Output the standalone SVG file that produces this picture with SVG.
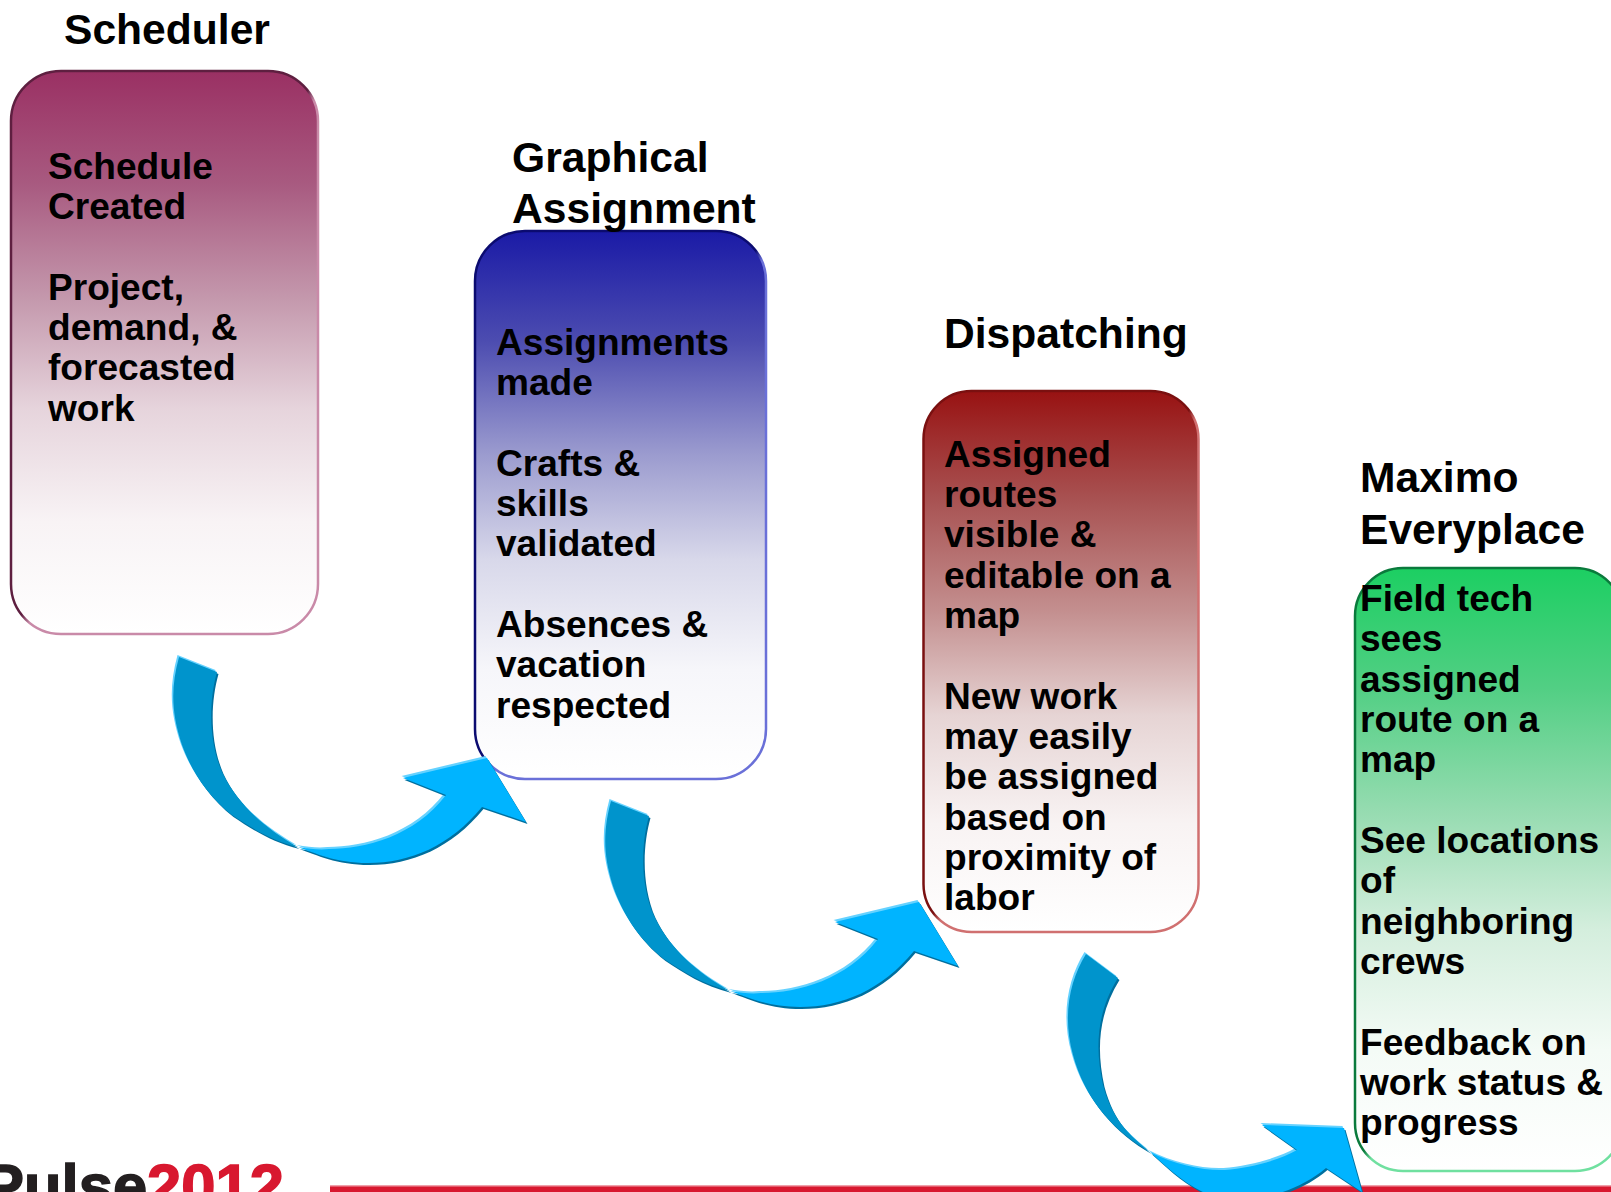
<svg xmlns="http://www.w3.org/2000/svg" xmlns:xlink="http://www.w3.org/1999/xlink" width="1611" height="1192" viewBox="0 0 1611 1192">
<style>
text{font-family:"Liberation Sans",Arial,sans-serif;font-weight:700;fill:#000}
.t{font-size:42.6px}
.b{font-size:37.1px}
.box{stroke-width:2.5}
.tail{fill:#0094cc}
.head{fill:#00b4ff}
.hi{fill:#66d2ff}
.lo{fill:#006f9e}
</style>
<defs>
<linearGradient id="g1" x1="0" y1="0" x2="0" y2="1"><stop offset="0" stop-color="#9a3063"/><stop offset=".2" stop-color="#a85a80"/><stop offset=".41" stop-color="#c59aae"/><stop offset=".6" stop-color="#e6d4dc"/><stop offset=".8" stop-color="#f8f3f5"/><stop offset="1" stop-color="#fff"/></linearGradient>
<linearGradient id="g2" x1="0" y1="0" x2="0" y2="1"><stop offset="0" stop-color="#1a1aa6"/><stop offset=".2" stop-color="#4c4cb0"/><stop offset=".41" stop-color="#9c9ccf"/><stop offset=".6" stop-color="#d8d8ea"/><stop offset=".8" stop-color="#f6f6fa"/><stop offset="1" stop-color="#fff"/></linearGradient>
<linearGradient id="g3" x1="0" y1="0" x2="0" y2="1"><stop offset="0" stop-color="#981212"/><stop offset=".2" stop-color="#a85252"/><stop offset=".41" stop-color="#c49090"/><stop offset=".6" stop-color="#e6d4d4"/><stop offset=".8" stop-color="#f8f3f3"/><stop offset="1" stop-color="#fff"/></linearGradient>
<linearGradient id="g4" x1="0" y1="0" x2="0" y2="1"><stop offset="0" stop-color="#1ccf62"/><stop offset=".2" stop-color="#52cf84"/><stop offset=".41" stop-color="#98dcb2"/><stop offset=".6" stop-color="#d4eedd"/><stop offset=".8" stop-color="#f4fbf6"/><stop offset="1" stop-color="#fff"/></linearGradient>
<linearGradient id="s1" x1="0" y1="0" x2="1" y2="1"><stop offset="0" stop-color="#5e1f40"/><stop offset=".5" stop-color="#5e1f40"/><stop offset=".52" stop-color="#c98aa8"/><stop offset="1" stop-color="#c98aa8"/></linearGradient>
<linearGradient id="s2" x1="0" y1="0" x2="1" y2="1"><stop offset="0" stop-color="#0b0b70"/><stop offset=".5" stop-color="#0b0b70"/><stop offset=".52" stop-color="#6a70d8"/><stop offset="1" stop-color="#6a70d8"/></linearGradient>
<linearGradient id="s3" x1="0" y1="0" x2="1" y2="1"><stop offset="0" stop-color="#7a1010"/><stop offset=".5" stop-color="#7a1010"/><stop offset=".52" stop-color="#d07070"/><stop offset="1" stop-color="#d07070"/></linearGradient>
<linearGradient id="s4" x1="0" y1="0" x2="1" y2="1"><stop offset="0" stop-color="#0a7a3c"/><stop offset=".5" stop-color="#0a7a3c"/><stop offset=".52" stop-color="#70e0a0"/><stop offset="1" stop-color="#70e0a0"/></linearGradient>
<path id="a1" d="M179 657L217 672C209 700 208 740 222 772C238 806 268 830 298 847C310 849 320 850 329 849C365 849 415 836 446 795L403 778L487 758L526 822L482 807C450 846 410 863 368 863C335 863 315 853 298 847C270 840 250 827 232 815C205 794 190 767 182 745C172 715 170 690 179 657Z"/>
<path id="t1" d="M179 657L217 672C209 700 208 740 222 772C238 806 268 830 298 847C270 840 250 827 232 815C205 794 190 767 182 745C172 715 170 690 179 657Z"/>
<path id="h1" d="M298 847C310 849 320 850 329 849C365 849 415 836 446 795L403 778L487 758L526 822L482 807C450 846 410 863 368 863C335 863 315 853 298 847Z"/>
<path id="a3" d="M1086 954L1118 978C1098 1010 1094 1045 1103 1085C1113 1122 1130 1135 1150 1152C1175 1165 1205 1171 1225 1170C1250 1168 1280 1160 1297 1150L1262 1125L1344 1128L1362 1192L1326 1168C1300 1190 1265 1200 1235 1200C1200 1200 1170 1170 1150 1152C1115 1132 1085 1100 1073 1055C1062 1015 1070 980 1086 954Z"/>
<path id="t3" d="M1086 954L1118 978C1098 1010 1094 1045 1103 1085C1113 1122 1130 1135 1150 1152C1115 1132 1085 1100 1073 1055C1062 1015 1070 980 1086 954Z"/>
<path id="h3" d="M1150 1152C1175 1165 1205 1171 1225 1170C1250 1168 1280 1160 1297 1150L1262 1125L1344 1128L1362 1192L1326 1168C1300 1190 1265 1200 1235 1200C1200 1200 1170 1170 1150 1152Z"/>
<g id="arrow1">
<use xlink:href="#a1" href="#a1" class="hi" transform="translate(-1.5,-2)"/>
<use xlink:href="#a1" href="#a1" class="lo" transform="translate(1.5,2)"/>
<use xlink:href="#t1" href="#t1" class="tail"/>
<use xlink:href="#h1" href="#h1" class="head"/>
</g>
</defs>
<g id="footer">
<rect x="330" y="1186" width="1281" height="6" fill="#d8182f"/>
<rect x="330" y="1185" width="1281" height="1.5" fill="#f0a0aa"/>
<text x="-17" y="1207" font-size="61.5" stroke-width="1.5"><tspan fill="#231f20" stroke="#231f20">Pulse</tspan><tspan fill="#d8182f" stroke="#d8182f">2012</tspan></text>
</g>
<g id="scheduler">
<rect class="box" x="11" y="71" width="307" height="563" rx="50" fill="url(#g1)" stroke="url(#s1)"/>
<text class="t" x="64" y="44">Scheduler</text>
<text class="b"><tspan x="48" y="179">Schedule</tspan><tspan x="48" y="219">Created</tspan><tspan x="48" y="299.5">Project,</tspan><tspan x="48" y="340">demand, &amp;</tspan><tspan x="48" y="380">forecasted</tspan><tspan x="48" y="420.5">work</tspan></text>
</g>
<g id="graphical-assignment">
<rect class="box" x="475" y="231" width="291" height="548" rx="50" fill="url(#g2)" stroke="url(#s2)"/>
<text class="t"><tspan x="512" y="172">Graphical</tspan><tspan x="512" y="223">Assignment</tspan></text>
<text class="b"><tspan x="496" y="355">Assignments</tspan><tspan x="496" y="395">made</tspan><tspan x="496" y="475.5">Crafts &amp;</tspan><tspan x="496" y="515.5">skills</tspan><tspan x="496" y="555.5">validated</tspan><tspan x="496" y="636.5">Absences &amp;</tspan><tspan x="496" y="677">vacation</tspan><tspan x="496" y="718">respected</tspan></text>
</g>
<g id="dispatching">
<rect class="box" x="923.5" y="391" width="275" height="541" rx="48" fill="url(#g3)" stroke="url(#s3)"/>
<text class="t" x="944" y="348">Dispatching</text>
<text class="b"><tspan x="944" y="466.5">Assigned</tspan><tspan x="944" y="507">routes</tspan><tspan x="944" y="547">visible &amp;</tspan><tspan x="944" y="588">editable on a</tspan><tspan x="944" y="628">map</tspan><tspan x="944" y="709">New work</tspan><tspan x="944" y="749">may easily</tspan><tspan x="944" y="789">be assigned</tspan><tspan x="944" y="830">based on</tspan><tspan x="944" y="870">proximity of</tspan><tspan x="944" y="910">labor</tspan></text>
</g>
<g id="maximo-everyplace">
<rect class="box" x="1355" y="568" width="268" height="603" rx="48" fill="url(#g4)" stroke="url(#s4)"/>
<text class="t"><tspan x="1360" y="492">Maximo</tspan><tspan x="1360" y="544">Everyplace</tspan></text>
<text class="b"><tspan x="1360" y="611">Field tech</tspan><tspan x="1360" y="651">sees</tspan><tspan x="1360" y="692">assigned</tspan><tspan x="1360" y="732">route on a</tspan><tspan x="1360" y="772">map</tspan><tspan x="1360" y="853">See locations</tspan><tspan x="1360" y="893">of</tspan><tspan x="1360" y="934">neighboring</tspan><tspan x="1360" y="974">crews</tspan><tspan x="1360" y="1055">Feedback on</tspan><tspan x="1360" y="1095">work status &amp;</tspan><tspan x="1360" y="1135">progress</tspan></text>
</g>
<g id="connectors">
<use xlink:href="#arrow1" href="#arrow1"/>
<use xlink:href="#arrow1" href="#arrow1" transform="translate(432,144)"/>
<g id="arrow3">
<use xlink:href="#a3" href="#a3" class="hi" transform="translate(-1.5,-2)"/>
<use xlink:href="#a3" href="#a3" class="lo" transform="translate(1.5,2)"/>
<use xlink:href="#t3" href="#t3" class="tail"/>
<use xlink:href="#h3" href="#h3" class="head"/>
</g>
</g>
</svg>
